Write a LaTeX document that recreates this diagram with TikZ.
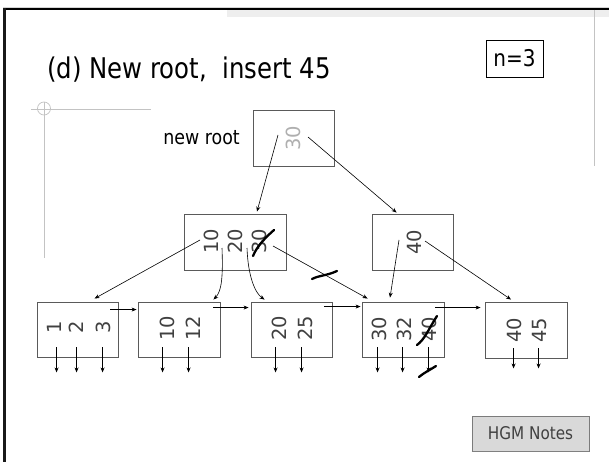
\documentclass[tikz,border=0pt]{standalone}
\usepackage{fontspec}
\setmainfont{DejaVu Sans}
\usetikzlibrary{arrows.meta,calc}
\definecolor{boxgray}{RGB}{90,90,90}
\definecolor{numgray}{RGB}{64,64,64}
\definecolor{rootgray}{RGB}{175,175,175}
\definecolor{decogray}{RGB}{195,195,195}
\definecolor{stripgray}{RGB}{238,238,238}
\definecolor{notefill}{RGB}{217,217,217}
\begin{document}
\begin{tikzpicture}[x=1pt,y=-1pt,
  box/.style={draw=boxgray, line width=0.9pt, minimum height=56pt, inner sep=0pt},
  num/.style={rotate=90, font=\fontsize{19.5}{20}\selectfont, text=numgray, inner sep=0pt},
  arr/.style={-{Stealth[length=5pt,width=4pt]}, line width=0.6pt},
  xmark/.style={line width=2.3pt, line cap=round}
]
\useasboundingbox (0,0) rectangle (609,462);
% frame decorations
\fill[stripgray] (227,10.5) rectangle (609,17);
\draw[decogray!70, line width=0.8pt] (3,7.3) -- (609,7.3);
\draw[black, line width=2pt] (3,9) -- (609,9);
\draw[black!90, line width=3pt] (4.5,8) -- (4.5,462);
\draw[decogray, line width=0.9pt] (594,10) -- (594,166);
\draw[decogray, line width=0.9pt] (31,109) -- (151,109);
\draw[decogray, line width=0.9pt] (44,102) -- (44,258);
\draw[decogray, line width=0.7pt] (44,108.5) circle (6.5);

% texts
\node[anchor=west, font=\fontsize{28.5}{30}\selectfont, inner sep=0pt] (title) at (47,70) {\scalebox{0.855}[1]{(d) New root,\ \ insert 45}};
\node[draw=black, line width=0.9pt, minimum width=57pt, minimum height=37pt, inner sep=0pt, font=\fontsize{23}{25}\selectfont] (nbox) at (514.5,58.5) {\scalebox{0.87}[1]{n=3}};
\node[anchor=east, font=\fontsize{20}{22}\selectfont, inner sep=0pt] (newroot) at (240,138) {\scalebox{0.87}[1]{new root}};
\node[draw=boxgray!80, fill=notefill, line width=0.8pt, minimum width=117pt, minimum height=35pt, inner sep=0pt, text=numgray, font=\fontsize{17.5}{19}\selectfont] (hgm) at (530.5,433.5) {\scalebox{0.87}[1]{HGM Notes}};
\draw[gray, line width=1.2pt] (hgm.south west) -- (hgm.south east);

% boxes
\node[box, minimum width=81pt] (root) at (293.5,138) {};
\node[box, minimum width=102pt] (iL) at (235,242) {};
\node[box, minimum width=81pt] (iR) at (412.5,242) {};
\node[box, minimum width=81pt, minimum height=55pt] (l1) at (77.5,329.5) {};
\node[box, minimum width=82pt, minimum height=55pt] (l2) at (179,329.5) {};
\node[box, minimum width=81pt, minimum height=55pt] (l3) at (291.5,329.5) {};
\node[box, minimum width=82pt, minimum height=55pt] (l4) at (403,329.5) {};
\node[box, minimum width=82pt, minimum height=56pt] (l5) at (526,330) {};

% numbers
\node[num, text=rootgray] (r30) at (293,138) {30};
\node[num] (a10) at (211,241) {10};
\node[num] (a20) at (235,241) {20};
\node[num] (a30) at (259,241) {30};
\node[num] (b40) at (414,242) {40};
\node[num] (c1) at (54,327) {1};
\node[num] (c2) at (76.5,327) {2};
\node[num] (c3) at (103.5,327) {3};
\node[num] (d10) at (167,328) {10};
\node[num] (d12) at (193.5,328) {12};
\node[num] (e20) at (279.5,328) {20};
\node[num] (e25) at (305,328) {25};
\node[num] (f30) at (379.5,329) {30};
\node[num] (f32) at (404.5,329) {32};
\node[num] (f40) at (429.5,329) {40};
\node[num] (g40) at (514,330) {40};
\node[num] (g45) at (539.5,330) {45};

% root pointers
\draw[arr] ($(r30.center)+(-15,-3)$) -- ($(iL.north)+(22,-2)$);
\draw[arr] ($(r30.center)+(15,-1)$) -- ($(iR.north west)+(25,-1)$);

% inner-left pointers
\draw[arr] ($(a10.center)+(-11,-1)$) -- ($(l1.north west)+(58,-3)$);
\draw[arr] ($(a20.center)+(-13,7)$) .. controls (223,275) and (222,291) .. ($(l2.north east)+(-7,-2)$);
\draw[arr] ($(a30.center)+(-12,7)$) .. controls (248,276) and (255,293) .. ($(l3.north west)+(14,-2)$);
\draw[arr] ($(a30.center)+(14,5)$) -- ($(l4.north west)+(6,-3)$);

% inner-right pointers
\draw[arr] ($(b40.center)+(-15,-2)$) -- ($(l4.north)+(-13,-4)$);
\draw[arr] ($(b40.center)+(11,-1)$) -- ($(l5.north)+(-15,-2)$);

% sibling pointers
\draw[arr] ($(l1.north east)+(-8,8)$) -- ($(l2.north west)+(-1,8)$);
\draw[arr] ($(l2.north east)+(-7,6)$) -- ($(l3.north west)+(-2,6)$);
\draw[arr] ($(l3.north east)+(-8,5)$) -- ($(l4.north west)+(-1,5)$);
\draw[arr] ($(l4.north east)+(-9,6)$) -- ($(l5.north west)+(-4,6)$);

% record pointers
\foreach \n/\dx in {l1/20, l1/40, l1/66} {\draw[arr] ($(\n.south west)+(\dx,-10)$) -- ++(0,25);}
\foreach \n/\dx in {l2/25, l2/51} {\draw[arr] ($(\n.south west)+(\dx,-10)$) -- ++(0,25);}
\foreach \n/\dx in {l3/25, l3/51} {\draw[arr] ($(\n.south west)+(\dx,-10)$) -- ++(0,25);}
\foreach \n/\dx in {l4/16, l4/41, l4/67} {\draw[arr] ($(\n.south west)+(\dx,-10)$) -- ++(0,25);}
\foreach \n/\dx in {l5/29, l5/54} {\draw[arr] ($(\n.south west)+(\dx,-10)$) -- ++(0,20);}

% cross-out strokes
\draw[xmark] (253,256) .. controls (257,246) and (266,237) .. (274,230);
\draw[xmark] (312,279) .. controls (320,275) and (326,276) .. (337,271);
\draw[xmark] (417,345) .. controls (425,339) and (428,330) .. (437,316);
\draw[xmark] (419,377) .. controls (425,372) and (430,370) .. (436,366);
\end{tikzpicture}
\end{document}
